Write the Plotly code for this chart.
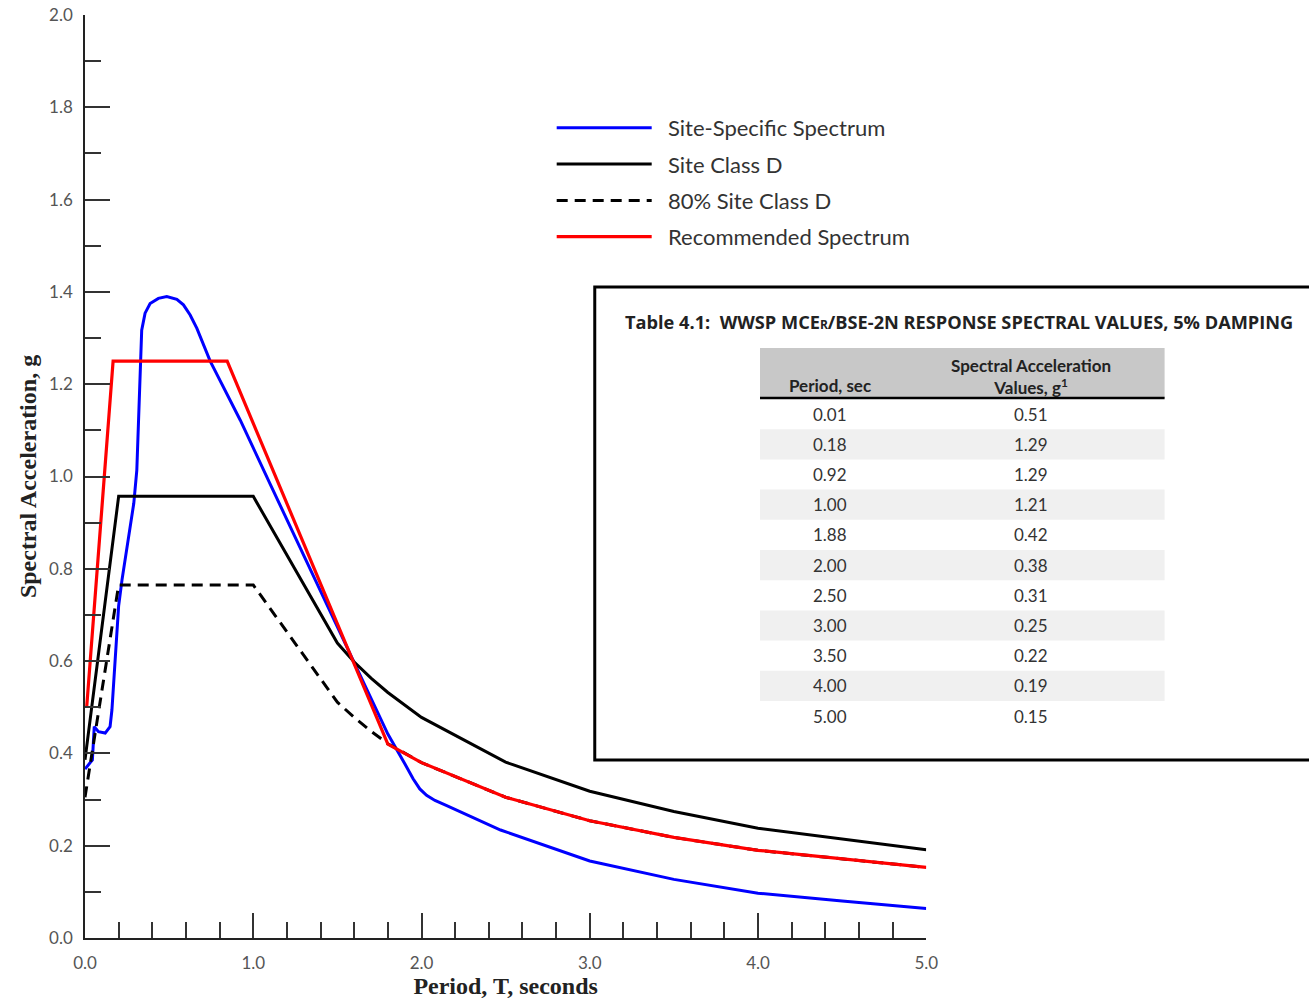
import plotly.graph_objects as go

# ---------------- data ----------------
T_site = [0.0, 0.01, 0.044, 0.055, 0.08, 0.12, 0.149, 0.16, 0.18, 0.20, 0.22, 0.25, 0.29, 0.308,
          0.317, 0.327, 0.337, 0.357, 0.387, 0.436, 0.486, 0.546, 0.585, 0.625, 0.665, 0.744, 0.863,
          0.923, 1.10, 1.60, 1.80, 1.90, 1.95, 1.99, 2.03, 2.08, 2.15, 2.47, 3.00, 3.50, 4.00, 4.50, 5.00]
Sa_site = [0.366, 0.371, 0.386, 0.458, 0.447, 0.444, 0.458, 0.494, 0.617, 0.720, 0.776, 0.848, 0.942,
           1.014, 1.120, 1.252, 1.317, 1.354, 1.375, 1.386, 1.390, 1.384, 1.372, 1.350, 1.321, 1.250,
           1.166, 1.122, 0.984, 0.595, 0.442, 0.378, 0.345, 0.323, 0.309, 0.298, 0.287, 0.234, 0.167,
           0.127, 0.097, 0.080, 0.064]

T_classD = [0.0, 0.2, 1.0, 1.5, 1.6, 1.7, 1.8, 1.9, 2.0, 2.5, 3.0, 3.5, 4.0, 5.0]
Sa_classD = [0.386, 0.957, 0.957, 0.639, 0.598, 0.563, 0.532, 0.504, 0.478, 0.381, 0.318, 0.274, 0.238, 0.191]

T_80D = [0.0, 0.2, 1.0, 1.5, 1.6, 1.7, 1.8, 1.9, 2.0, 2.5, 3.0, 3.5, 4.0, 5.0]
Sa_80D = [0.305, 0.765, 0.765, 0.511, 0.478, 0.448, 0.421, 0.400, 0.380, 0.305, 0.254, 0.218, 0.190, 0.153]

T_rec = [0.01, 0.167, 0.845, 1.80, 2.00, 2.50, 3.00, 3.50, 4.00, 5.00]
Sa_rec = [0.50, 1.25, 1.25, 0.42, 0.38, 0.305, 0.254, 0.218, 0.190, 0.153]

table_periods = ["0.01", "0.18", "0.92", "1.00", "1.88", "2.00", "2.50", "3.00", "3.50", "4.00", "5.00"]
table_values = ["0.51", "1.29", "1.29", "1.21", "0.42", "0.38", "0.31", "0.25", "0.22", "0.19", "0.15"]
table_header = ["Period, sec", "Spectral Acceleration<br>Values, g<sup>1</sup>"]
table_title = ("Table 4.1:\u00a0\u00a0WWSP MCE<span style='font-size:12px'>R</span>/BSE-2N "
               "RESPONSE SPECTRAL VALUES, 5% DAMPING")

y_tickvals = [0.0, 0.2, 0.4, 0.6, 0.8, 1.0, 1.2, 1.4, 1.6, 1.8, 2.0]
x_tickvals = [0.0, 1.0, 2.0, 3.0, 4.0, 5.0]

# ---------------- geometry helpers (pixel layout) ----------------
W, H = 1309, 999
ML, MR, MT, MB = 85, 0, 15, 61
PW, PH = W - ML - MR, H - MT - MB
SX = 1.0114   # horizontal correction observed in the rendered page


def px(xp):
    return (xp - ML) * SX / PW


def py(yp):
    return (H - MB - yp) / PH


fig = go.Figure()

fig.add_trace(go.Scatter(x=T_site, y=Sa_site, mode="lines", name="\u00a0\u00a0Site-Specific Spectrum",
                         line=dict(color="#0000ff", width=3), legendgroup="a"))
fig.add_trace(go.Scatter(x=T_classD, y=Sa_classD, mode="lines", name="\u00a0\u00a0Site Class D",
                         line=dict(color="#000000", width=3), legendgroup="b"))
fig.add_trace(go.Scatter(x=T_80D, y=Sa_80D, mode="lines", name="\u00a0\u00a080% Site Class D",
                         line=dict(color="#000000", width=3, dash="11px,7px"), legendgroup="c"))
fig.add_trace(go.Scatter(x=T_rec, y=Sa_rec, mode="lines", name="\u00a0\u00a0Recommended Spectrum",
                         line=dict(color="#ff0000", width=3.2), legendgroup="d"))

# ---------------- table (shapes + annotations built from the lists) ----------------
TL, TR = 759, 1163          # table left / right (px)
HT, HB = 348, 398           # header top / bottom
ROW_H = 30.2
C1, C2 = 829, 1030          # column centres

shapes = [
    dict(type="rect", xref="paper", yref="paper", x0=px(594), x1=px(1330), y0=py(760), y1=py(287),
         line=dict(color="black", width=3), fillcolor="rgba(0,0,0,0)", layer="below"),
    dict(type="rect", xref="paper", yref="paper", x0=px(TL), x1=px(TR), y0=py(HB), y1=py(HT),
         line=dict(width=0), fillcolor="#c8c8c8", layer="below"),
]
annotations = [
    dict(xref="paper", yref="paper", x=px(622), y=py(322), xanchor="left", yanchor="middle",
         showarrow=False, text="<b>" + table_title + "</b>",
         font=dict(family="Open Sans", size=18.2, color="#222222")),
    dict(xref="paper", yref="paper", x=px(C1), y=py(386), xanchor="center", yanchor="middle",
         showarrow=False, text="<b>" + table_header[0] + "</b>",
         font=dict(family="Lato", size=17, color="#222222")),
    dict(xref="paper", yref="paper", x=px(C2), y=py(376), xanchor="center", yanchor="middle",
         showarrow=False, align="center", text="<b>" + table_header[1] + "</b>",
         font=dict(family="Lato", size=17, color="#222222")),
]
for i, (p, v) in enumerate(zip(table_periods, table_values)):
    top = HB + 1 + i * ROW_H
    if i % 2 == 1:
        shapes.append(dict(type="rect", xref="paper", yref="paper", x0=px(TL), x1=px(TR),
                           y0=py(top + ROW_H), y1=py(top), line=dict(width=0),
                           fillcolor="#f0f0f0", layer="below"))
    yc = top + ROW_H / 2
    annotations.append(dict(xref="paper", yref="paper", x=px(C1), y=py(yc), xanchor="center",
                            yanchor="middle", showarrow=False, text=p,
                            font=dict(family="Lato", size=17, color="#333333")))
    annotations.append(dict(xref="paper", yref="paper", x=px(C2), y=py(yc), xanchor="center",
                            yanchor="middle", showarrow=False, text=v,
                            font=dict(family="Lato", size=17, color="#333333")))
shapes.append(dict(type="line", xref="paper", yref="paper", x0=px(TL), x1=px(TR), y0=py(HB), y1=py(HB),
                   line=dict(color="black", width=2.5)))

axis_common = dict(showline=True, linecolor="#222222", linewidth=1.5, showgrid=False, zeroline=False,
                   ticks="inside", ticklen=25, tickwidth=1.5, tickcolor="#333333",
                   tickfont=dict(family="Lato", size=17, color="#555555"))

fig.update_layout(
    width=W, height=H, autosize=False,
    margin=dict(l=ML, r=MR, t=MT, b=MB),
    paper_bgcolor="white", plot_bgcolor="white",
    showlegend=True,
    legend=dict(x=px(551), y=py(107), xanchor="left", yanchor="top", itemwidth=95,
                tracegroupgap=4.7, bgcolor="rgba(0,0,0,0)",
                font=dict(family="Lato", size=22, color="#333333")),
    xaxis=dict(domain=[0, px(925)], range=[0, 5], tickvals=x_tickvals, tickformat=".1f",
               ticklabelstandoff=9,
               minor=dict(ticks="inside", ticklen=16, tickwidth=1.5, tickcolor="#333333", dtick=0.2,
                          showgrid=False),
               title=dict(text="<b>Period, T, seconds</b>", standoff=8,
                          font=dict(family="Liberation Serif", size=24, color="#222222")),
               **axis_common),
    yaxis=dict(range=[0, 2.0], tickvals=y_tickvals, tickformat=".1f", ticklabelstandoff=7,
               minor=dict(ticks="inside", ticklen=16, tickwidth=1.5, tickcolor="#333333", dtick=0.1,
                          showgrid=False),
               title=dict(text="<b>Spectral Acceleration, g</b>", standoff=6,
                          font=dict(family="Liberation Serif", size=24, color="#222222")),
               **axis_common),
    shapes=shapes,
    annotations=annotations,
)

fig.write_html(
    "out.html",
    config={"responsive": False, "displayModeBar": False},
    post_script=("document.documentElement.style.overflow='hidden';"
                 "document.body.style.overflow='hidden';"
                 "document.body.style.margin='0px';"),
)
